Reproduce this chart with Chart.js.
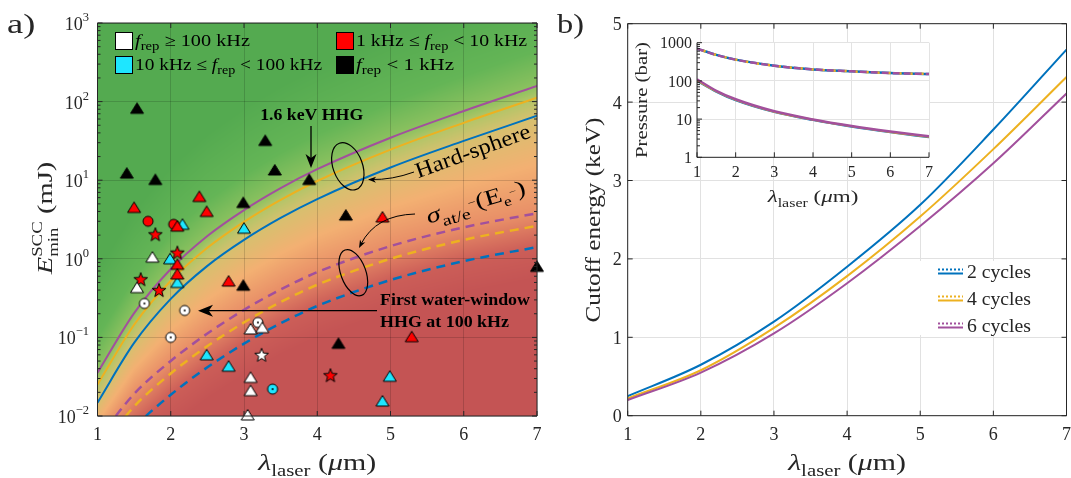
<!DOCTYPE html>
<html>
<head>
<meta charset="utf-8">
<script src="https://cdn.jsdelivr.net/npm/chart.js@4.4.1/dist/chart.umd.min.js"></script>
<style>
  body { margin: 0; background: #fff; }
  #wrap { position: relative; width: 1071px; height: 478px; overflow: hidden; }
  canvas { position: absolute; top: 0; }
</style>
</head>
<body>
<div id="wrap">
  <canvas id="chartA" width="548" height="478" style="left:0"></canvas>
  <canvas id="chartB" width="523" height="478" style="left:548px"></canvas>
  <canvas id="inset" width="310" height="180" style="left:628px;top:30px"></canvas>
</div>
<script>
const SERIF = '"Liberation Serif", "DejaVu Serif", serif';
const INK = '#262626';
const BLUE = '#0072BD', YELLOW = '#EDB120', PURPLE = '#A2509C';

// a) minimum energy for self-compression, hard-sphere and sigma_at/e models
const lambdaA = [1, 1.5, 2, 2.5, 3, 3.5, 4, 5, 6, 7];
const hardPurple = [0.0355, 0.204, 0.741, 1.95, 4.17, 7.94, 13.8, 34.7, 75.9, 158];
const hardYellow = [0.0251, 0.145, 0.525, 1.38, 2.95, 5.62, 9.77, 24.5, 53.7, 112];
const hardBlue = [0.0148, 0.0851, 0.309, 0.813, 1.74, 3.31, 5.75, 14.5, 31.6, 66.1];
const sigmaPurple = [0.0050, 0.0191, 0.0501, 0.112, 0.224, 0.407, 0.676, 1.45, 2.51, 3.80];
const sigmaYellow = [0.00347, 0.0132, 0.0347, 0.0776, 0.155, 0.282, 0.468, 1.0, 1.74, 2.63];
const sigmaBlue = [0.00186, 0.00708, 0.0186, 0.0417, 0.0832, 0.151, 0.251, 0.537, 0.933, 1.41];

// reported HHG sources [lambda (um), pulse energy (mJ)]
const whiteTri = [[1.54, 0.43], [1.75, 1.05], [3.09, 0.128], [3.25, 0.133], [3.09, 0.031], [3.09, 0.021], [3.05, 0.0103]];
const whiteCirc = [[1.64, 0.27], [2.19, 0.22], [2.0, 0.1], [3.19, 0.155]];
const whiteStar = [[3.24, 0.06]];
const cyanTri = [[2.16, 2.75], [3.0, 2.45], [1.99, 1.0], [2.09, 0.5], [2.49, 0.06], [2.79, 0.043], [4.99, 0.032], [4.89, 0.0155]];
const cyanCirc = [[3.39, 0.022]];
const redTri = [[1.5, 4.5], [2.39, 6.2], [2.49, 4.0], [2.09, 2.6], [2.09, 0.85], [2.09, 0.64], [2.79, 0.52], [4.89, 3.4], [5.29, 0.102]];
const redCirc = [[1.69, 3.0], [2.04, 2.75]];
const redStar = [[1.79, 2.05], [2.09, 1.2], [1.59, 0.55], [1.84, 0.4], [4.18, 0.033]];
const blackTri = [[1.54, 82], [1.40, 12.3], [1.79, 10.2], [3.29, 32], [3.42, 13.5], [3.89, 10.2], [2.99, 5.2], [2.99, 0.46], [4.39, 3.6], [7.0, 0.8], [4.29, 0.084]];

// b) cutoff energy
const lambdaB = [1, 2, 3, 4, 5, 6, 7];
const cutoff2 = [0.25, 0.65, 1.20, 1.90, 2.69, 3.65, 4.67];
const cutoff4 = [0.22, 0.58, 1.12, 1.78, 2.54, 3.40, 4.32];
const cutoff6 = [0.20, 0.55, 1.05, 1.69, 2.42, 3.22, 4.11];

// b) inset: pressure
const lambdaP = [1, 1.5, 2, 3, 4, 5, 6, 7];
const pLow2 = [100, 52, 31, 15.2, 9.4, 6.3, 4.5, 3.35];
const pLow4 = [104, 53, 32, 15.6, 9.6, 6.45, 4.6, 3.45];
const pLow6 = [110, 55, 33, 16, 9.8, 6.6, 4.75, 3.55];
const pHigh = [700, 480, 360, 250, 200, 178, 160, 152];

// ticks and labels
const xTicks = [1, 2, 3, 4, 5, 6, 7];
const decadeTicks = [0.01, 0.1, 1, 10, 100, 1000];
const decadeExp = ['\u22122', '\u22121', '0', '1', '2', '3'];
const cutoffTicks = [0, 1, 2, 3, 4, 5];
const pressureTicks = [1, 10, 100, 1000];
const cycleLabels = ['2 cycles', '4 cycles', '6 cycles'];
const cycleColors = [BLUE, YELLOW, PURPLE];

// ---------- text helpers ----------
function font(p, k) { return (p.st ? p.st + ' ' : '') + (p.s * k).toFixed(2) + 'px ' + SERIF; }
function runW(ctx, parts, k = 1) {
  let w = 0, held = 0;
  for (const p of parts) {
    ctx.font = font(p, k);
    const pw = ctx.measureText(p.t).width;
    if (p.hold) { held = pw; continue; }
    w += Math.max(pw, held); held = 0;
  }
  return w;
}
function drawRun(ctx, parts, x, y, align, k = 1) {
  const w = runW(ctx, parts, k);
  let cx = align === 'center' ? x - w / 2 : align === 'right' ? x - w : x;
  let held = 0;
  ctx.textAlign = 'left'; ctx.textBaseline = 'alphabetic';
  for (const p of parts) {
    ctx.font = font(p, k);
    ctx.fillText(p.t, cx, y + (p.dy || 0) * k);
    const pw = ctx.measureText(p.t).width;
    if (p.hold) { held = pw; continue; }
    cx += Math.max(pw, held); held = 0;
  }
}
// glyph heights follow the font size; widths are stretched to the measured span
function drawFit(ctx, parts, x, y, align, target, ang = 0, k = 1) {
  const sx = Math.min(1.3, Math.max(0.85, target / runW(ctx, parts, k)));
  ctx.save(); ctx.translate(x, y); if (ang) ctx.rotate(ang); ctx.scale(sx, 1);
  drawRun(ctx, parts, 0, 0, align, k);
  ctx.restore();
}
function drawRot(ctx, parts, cx, cy, ang, off, target) {
  ctx.save(); ctx.translate(cx, cy); ctx.rotate(ang);
  drawFit(ctx, parts, 0, off, 'center', target);
  ctx.restore();
}
const lamLabel = [{ t: '\u03bb', s: 23, st: 'italic' }, { t: 'laser', s: 16, dy: 6 }, { t: ' (', s: 23 }, { t: '\u03bc', s: 23, st: 'italic' }, { t: 'm)', s: 23 }];
const frep = [{ t: 'f', s: 16.5, st: 'italic' }, { t: 'rep', s: 12, dy: 4 }];

// ---------- markers ----------
function marker(shape, fill, dot) {
  const c = document.createElement('canvas'); c.width = c.height = 16;
  const g = c.getContext('2d');
  g.fillStyle = fill; g.strokeStyle = '#000'; g.lineWidth = 1;
  g.beginPath();
  if (shape === 'tri') { g.moveTo(8, 2.5); g.lineTo(14.5, 13); g.lineTo(1.5, 13); g.closePath(); }
  else if (shape === 'circ') { g.arc(8, 8, 5, 0, Math.PI * 2); }
  else {
    for (let i = 0; i < 10; i++) {
      const r = i % 2 ? 3 : 7.2, a = -Math.PI / 2 + i * Math.PI / 5;
      g.lineTo(8 + r * Math.cos(a), 8.6 + r * Math.sin(a));
    }
    g.closePath();
  }
  g.fill(); g.stroke();
  if (dot) { g.fillStyle = '#000'; g.beginPath(); g.arc(8, 8, 1, 0, Math.PI * 2); g.fill(); }
  return c;
}

// ---------- axes frame ----------
function drawFrame(ctx, a, xs, ys, xt, yt, minor, box) {
  ctx.strokeStyle = INK; ctx.lineWidth = 1;
  ctx.beginPath();
  if (box) ctx.rect(a.left, a.top, a.right - a.left, a.bottom - a.top);
  else { ctx.moveTo(a.left, a.top); ctx.lineTo(a.left, a.bottom); ctx.lineTo(a.right, a.bottom); }
  xt.forEach(v => {
    const p = xs.getPixelForValue(v);
    ctx.moveTo(p, a.bottom); ctx.lineTo(p, a.bottom - 5);
    if (box) { ctx.moveTo(p, a.top); ctx.lineTo(p, a.top + 5); }
  });
  const tick = (p, len) => {
    ctx.moveTo(a.left, p); ctx.lineTo(a.left + len, p);
    if (box) { ctx.moveTo(a.right, p); ctx.lineTo(a.right - len, p); }
  };
  yt.forEach(v => tick(ys.getPixelForValue(v), 5));
  if (minor) for (let i = 0; i < yt.length - 1; i++) for (let m = 2; m < 10; m++) tick(ys.getPixelForValue(yt[i] * m), 3);
  ctx.stroke();
}
function arrowHead(ctx, x, y, ang, len, wid) {
  ctx.save(); ctx.translate(x, y); ctx.rotate(ang);
  ctx.beginPath(); ctx.moveTo(0, 0); ctx.lineTo(-len, -wid / 2); ctx.lineTo(-len * 0.72, 0); ctx.lineTo(-len, wid / 2); ctx.closePath(); ctx.fill();
  ctx.restore();
}

// ---------- panel a) background ----------
function logAt(arr, lam) {
  let i = 0;
  while (i < lambdaA.length - 2 && lam > lambdaA[i + 1]) i++;
  const t = (lam - lambdaA[i]) / (lambdaA[i + 1] - lambdaA[i]);
  return Math.log10(arr[i]) * (1 - t) + Math.log10(arr[i + 1]) * t;
}
function mix(stops, s) {
  if (s >= stops[0][0]) return stops[0][1];
  for (let i = 1; i < stops.length; i++) {
    if (s >= stops[i][0]) {
      const [s0, c0] = stops[i - 1], [s1, c1] = stops[i];
      const t = (s0 - s) / (s0 - s1);
      return [0, 1, 2].map(j => c0[j] + (c1[j] - c0[j]) * t);
    }
  }
  return stops[stops.length - 1][1];
}
const heatmap = {
  id: 'heatmap',
  beforeDraw(chart) {
    const { ctx, chartArea: a, scales: { x, y } } = chart;
    const x0 = Math.floor(a.left), y0 = Math.floor(a.top);
    const w = Math.ceil(a.right) - x0, h = Math.ceil(a.bottom) - y0;
    const img = ctx.createImageData(w, h);
    const rows = [];
    for (let j = 0; j < h; j++) rows.push(Math.log10(y.getValueForPixel(y0 + j + 0.5)));
    for (let i = 0; i < w; i++) {
      const lam = x.getValueForPixel(x0 + i + 0.5);
      const P = logAt(hardPurple, lam), Y = logAt(hardYellow, lam), B = logAt(hardBlue, lam);
      const Pd = logAt(sigmaPurple, lam), Bd = logAt(sigmaBlue, lam);
      const stops = [
        [P + 1.3, [84, 170, 80]], [P + 0.45, [100, 181, 86]], [P, [140, 193, 95]], [Y, [178, 197, 104]],
        [B, [214, 192, 110]], [(B + Pd) / 2, [243, 176, 114]], [Pd, [232, 142, 103]],
        [Bd, [204, 94, 88]], [Bd - 0.4, [196, 84, 84]]
      ];
      for (let j = 0; j < h; j++) {
        const c = mix(stops, rows[j]);
        const k = (j * w + i) * 4;
        img.data[k] = c[0]; img.data[k + 1] = c[1]; img.data[k + 2] = c[2]; img.data[k + 3] = 255;
      }
    }
    ctx.putImageData(img, x0, y0);
  }
};

const frameA = {
  id: 'frameA',
  afterDraw(chart) {
    const { ctx, chartArea: a, scales: { x, y } } = chart;
    ctx.save();
    drawFrame(ctx, a, x, y, xTicks, decadeTicks, true, true);
    ctx.fillStyle = INK;
    xTicks.forEach(v => drawRun(ctx, [{ t: String(v), s: 18 }], x.getPixelForValue(v), 440, 'center'));
    decadeTicks.forEach((v, i) => drawRun(ctx, [{ t: '10', s: 18 }, { t: decadeExp[i], s: 12.5, dy: -9 }], 89, y.getPixelForValue(v) + 7, 'right'));
    drawFit(ctx, lamLabel, (a.left + a.right) / 2, 470, 'center', 122);
    drawRot(ctx, [{ t: 'E', s: 22, st: 'italic' }, { t: 'SCC', s: 14.5, dy: -10, hold: true }, { t: 'min', s: 14.5, dy: 6 }, { t: ' (mJ)', s: 22 }], 44, 218, -Math.PI / 2, 8, 117);
    drawFit(ctx, [{ t: 'a)', s: 28 }], 7, 33, 'left', 29);

    // legend of repetition rates
    const sq = [[115.5, 32.5, '#fff'], [115.5, 56.5, '#1EE6FF'], [336.5, 32.5, '#f00'], [336.5, 56.5, '#000']];
    sq.forEach(([sx, sy, c]) => { ctx.fillStyle = c; ctx.fillRect(sx, sy, 17, 17); ctx.strokeStyle = '#000'; ctx.strokeRect(sx, sy, 17, 17); });
    ctx.fillStyle = '#000';
    drawFit(ctx, [...frep, { t: ' \u2265 100 kHz', s: 16.5 }], 135, 46, 'left', 115);
    drawFit(ctx, [{ t: '10 kHz \u2264 ', s: 16.5 }, ...frep, { t: ' < 100 kHz', s: 16.5 }], 135, 70, 'left', 187);
    drawFit(ctx, [{ t: '1 kHz \u2264 ', s: 16.5 }, ...frep, { t: ' < 10 kHz', s: 16.5 }], 356, 46, 'left', 171);
    drawFit(ctx, [...frep, { t: ' < 1 kHz', s: 16.5 }], 356, 70, 'left', 98);

    // annotations
    ctx.strokeStyle = '#000'; ctx.lineWidth = 1.3;
    drawFit(ctx, [{ t: '1.6 keV HHG', s: 17, st: 'bold' }], 311.7, 120, 'center', 103);
    ctx.beginPath(); ctx.moveTo(311, 126); ctx.lineTo(311, 160); ctx.stroke();
    arrowHead(ctx, 311, 168, Math.PI / 2, 14, 11);

    drawFit(ctx, [{ t: 'First water-window', s: 17, st: 'bold' }], 380, 305, 'left', 150);
    drawFit(ctx, [{ t: 'HHG at 100 kHz', s: 17, st: 'bold' }], 380, 327, 'left', 129);
    ctx.beginPath(); ctx.moveTo(377, 310.7); ctx.lineTo(205, 310.7); ctx.stroke();
    arrowHead(ctx, 198, 310.7, Math.PI, 15, 12);

    ctx.lineWidth = 1.2;
    ctx.beginPath(); ctx.ellipse(347.8, 166.3, 14.7, 24.6, -0.35, 0, Math.PI * 2); ctx.stroke();
    ctx.beginPath(); ctx.ellipse(353.3, 272.7, 12.5, 24.2, -0.35, 0, Math.PI * 2); ctx.stroke();

    ctx.lineWidth = 1;
    ctx.beginPath(); ctx.moveTo(414, 172); ctx.quadraticCurveTo(392, 180, 371, 179.5); ctx.stroke();
    arrowHead(ctx, 368, 179.5, Math.atan2(-0.5, -21), 8, 6);
    ctx.beginPath(); ctx.moveTo(415, 214); ctx.quadraticCurveTo(376, 215, 361, 244); ctx.stroke();
    arrowHead(ctx, 359, 248, Math.atan2(29, -15), 8, 6);

    drawRot(ctx, [{ t: 'Hard-sphere', s: 22 }], 473, 152, -20 * Math.PI / 180, 6, 121);
    drawRot(ctx, [{ t: '\u03c3', s: 22, st: 'italic' }, { t: 'at/e', s: 15.5, dy: 7 }, { t: '\u2212', s: 11, dy: -4 },
      { t: '(E', s: 22 }, { t: 'e', s: 13.5, dy: 6 }, { t: '\u2212', s: 10, dy: -3 }, { t: ')', s: 22 }],
      476, 203, -17 * Math.PI / 180, 6, 114);
    ctx.restore();
  }
};

// ---------- panel b) ----------
const OFFB = 548;
const frameB = {
  id: 'frameB',
  afterDraw(chart) {
    const { ctx, chartArea: a, scales: { x, y } } = chart;
    ctx.save();
    drawFrame(ctx, a, x, y, xTicks, cutoffTicks, false, true);
    ctx.fillStyle = INK;
    xTicks.forEach(v => drawRun(ctx, [{ t: String(v), s: 18 }], x.getPixelForValue(v), 440, 'center'));
    cutoffTicks.forEach(v => drawRun(ctx, [{ t: String(v), s: 18 }], a.left - 6, y.getPixelForValue(v) + 6.5, 'right'));
    drawFit(ctx, lamLabel, (a.left + a.right) / 2, 470, 'center', 122);
    drawRot(ctx, [{ t: 'Cutoff energy (keV)', s: 21.5 }], 593.3 - OFFB, 220, -Math.PI / 2, 7, 205);
    drawFit(ctx, [{ t: 'b)', s: 28 }], 557 - OFFB, 33, 'left', 27);

    ctx.fillStyle = '#fff'; ctx.fillRect(912 - OFFB, 261, 150, 74);
    cycleLabels.forEach((t, i) => {
      const yy = 272 + 27 * i, x0 = 938 - OFFB;
      ctx.strokeStyle = cycleColors[i]; ctx.lineWidth = 2;
      ctx.setLineDash([2, 2]); ctx.beginPath(); ctx.moveTo(x0, yy - 2.5); ctx.lineTo(x0 + 25, yy - 2.5); ctx.stroke();
      ctx.setLineDash([]); ctx.beginPath(); ctx.moveTo(x0, yy + 1.5); ctx.lineTo(x0 + 25, yy + 1.5); ctx.stroke();
      ctx.fillStyle = INK;
      drawFit(ctx, [{ t, s: 18 }], 967 - OFFB, yy + 6, 'left', 64);
    });
    ctx.restore();
  }
};

const insetBg = {
  id: 'insetBg',
  beforeDraw(chart) {
    const { ctx, chartArea: a } = chart;
    ctx.fillStyle = '#fff'; ctx.fillRect(a.left, a.top, a.right - a.left, a.bottom - a.top);
  },
  afterDraw(chart) {
    const { ctx, chartArea: a, scales: { x, y } } = chart;
    ctx.save();
    drawFrame(ctx, a, x, y, xTicks, pressureTicks, true, false);
    ctx.fillStyle = INK;
    xTicks.forEach(v => drawRun(ctx, [{ t: String(v), s: 16 }], x.getPixelForValue(v), 146.7, 'center'));
    pressureTicks.forEach(v => drawRun(ctx, [{ t: String(v), s: 16 }], a.left - 5, y.getPixelForValue(v) + 5.6, 'right'));
    drawFit(ctx, lamLabel, (a.left + a.right) / 2, 172, 'center', 97, 0, 0.77);
    drawRot(ctx, [{ t: 'Pressure (bar)', s: 17 }], 14, 70, -Math.PI / 2, 5, 116);
    ctx.restore();
  }
};

// ---------- charts ----------
const pts = (list) => list.map(([x, y]) => ({ x, y }));
const curve = (xs, ys) => xs.map((x, i) => ({ x, y: ys[i] }));
const mk = (list, img) => ({ data: pts(list), showLine: false, pointStyle: img, pointRadius: 6, clip: false, order: 1 });
const ln = (xs, ys, color, w, dash, order, off) => ({
  data: curve(xs, ys), borderColor: color, borderWidth: w, borderDash: dash || [], borderDashOffset: off || 0,
  pointRadius: 0, cubicInterpolationMode: 'monotone', fill: false, order: order || 5
});
const gridScale = (min, max, type, ticks, color, horiz) => ({
  type, min, max,
  afterFit: s => { if (horiz) s.height = 0; else s.width = 0; },
  afterBuildTicks: s => { s.ticks = ticks.map(v => ({ value: v })); },
  ticks: { display: false },
  grid: { color, drawTicks: false, lineWidth: 1 },
  border: { display: false }
});
const common = {
  responsive: false, animation: false, events: [],
  plugins: { legend: { display: false }, tooltip: { enabled: false } }
};

new Chart(document.getElementById('chartA'), {
  type: 'line',
  data: {
    datasets: [
      mk(blackTri, marker('tri', '#000')),
      mk(redTri, marker('tri', '#f00')),
      mk(cyanTri, marker('tri', '#1EE6FF')),
      mk(whiteTri, marker('tri', '#fff')),
      mk(redStar, marker('star', '#f00')),
      mk(whiteStar, marker('star', '#fff')),
      mk(redCirc, marker('circ', '#f00')),
      mk(whiteCirc, marker('circ', '#fff', true)),
      mk(cyanCirc, marker('circ', '#1EE6FF', true)),
      ln(lambdaA, hardPurple, PURPLE, 2),
      ln(lambdaA, hardYellow, YELLOW, 2),
      ln(lambdaA, hardBlue, BLUE, 2),
      ln(lambdaA, sigmaPurple, PURPLE, 2.5, [9, 6]),
      ln(lambdaA, sigmaYellow, YELLOW, 2.5, [9, 6]),
      ln(lambdaA, sigmaBlue, BLUE, 2.5, [9, 6])
    ]
  },
  options: {
    ...common,
    layout: { padding: { left: 97.5, right: 11, top: 23, bottom: 62 }, autoPadding: false },
    scales: {
      x: gridScale(1, 7, 'linear', xTicks, 'rgba(0,0,0,0.15)', true),
      y: gridScale(0.01, 1000, 'logarithmic', decadeTicks, 'rgba(0,0,0,0.15)', false)
    }
  },
  plugins: [heatmap, frameA]
});

new Chart(document.getElementById('chartB'), {
  type: 'line',
  data: {
    datasets: [
      ln(lambdaB, cutoff6, PURPLE, 2),
      ln(lambdaB, cutoff4, YELLOW, 2),
      ln(lambdaB, cutoff2, BLUE, 2)
    ]
  },
  options: {
    ...common,
    layout: { padding: { left: 79.7, right: 4.5, top: 23.7, bottom: 62.3 }, autoPadding: false },
    scales: {
      x: gridScale(1, 7, 'linear', xTicks, '#e1e1e1', true),
      y: gridScale(0, 5, 'linear', cutoffTicks, '#e1e1e1', false)
    }
  },
  plugins: [frameB]
});

new Chart(document.getElementById('inset'), {
  type: 'line',
  data: {
    datasets: [
      ln(lambdaP, pHigh, PURPLE, 2.5, [7, 4], 1),
      ln(lambdaP, pHigh, YELLOW, 2.5, [3, 8], 2, 5),
      ln(lambdaP, pHigh, BLUE, 2.5, [], 3),
      ln(lambdaP, pLow6, PURPLE, 2.5, [], 1),
      ln(lambdaP, pLow4, YELLOW, 2, [], 2),
      ln(lambdaP, pLow2, BLUE, 2, [], 3)
    ]
  },
  options: {
    ...common,
    layout: { padding: { left: 69, right: 9, top: 12.7, bottom: 52.7 }, autoPadding: false },
    scales: {
      x: gridScale(1, 7, 'linear', xTicks, '#e3e3e3', true),
      y: gridScale(1, 1000, 'logarithmic', pressureTicks, '#e3e3e3', false)
    }
  },
  plugins: [insetBg]
});
</script>
</body>
</html>
